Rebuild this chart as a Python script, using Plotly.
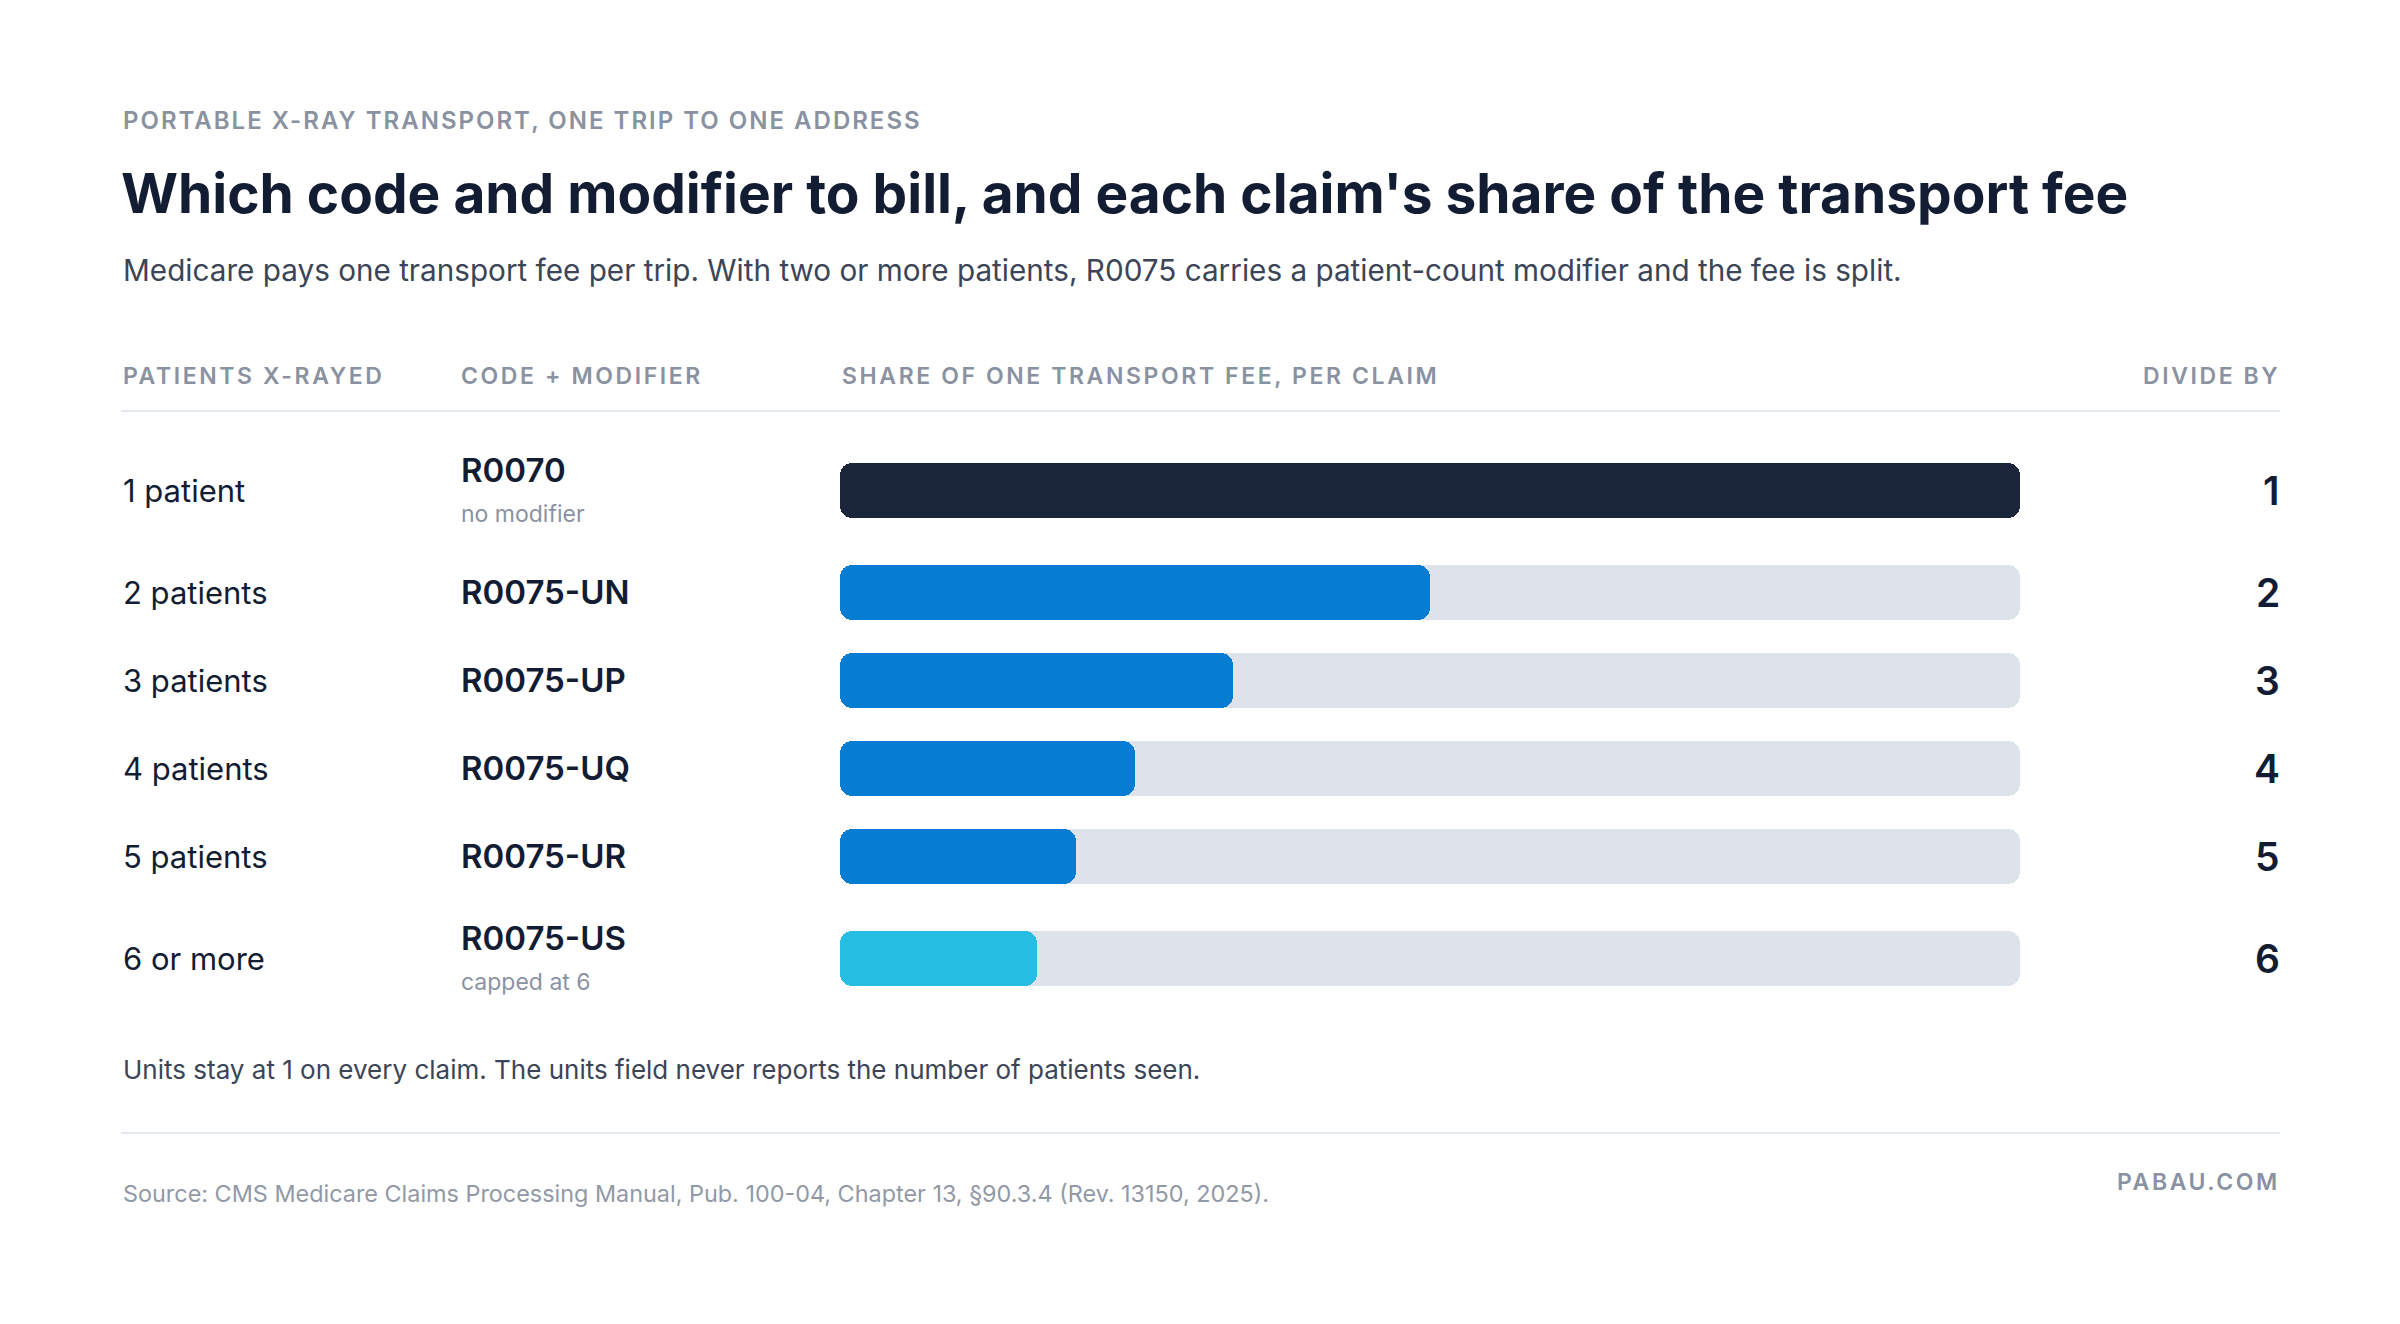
import plotly.graph_objects as go

# -------------------------------------
# Data
# -------------------------------------
patients = ["1 patient", "2 patients", "3 patients", "4 patients", "5 patients", "6 or more"]
codes = ["R0070", "R0075-UN", "R0075-UP", "R0075-UQ", "R0075-UR", "R0075-US"]
code_notes = ["no modifier", "", "", "", "", "capped at 6"]
divide_by = [1, 2, 3, 4, 5, 6]
share = [1, 1 / 2, 1 / 3, 1 / 4, 1 / 5, 1 / 6]

# -------------------------------------
# Layout constants (pixels of a 2400 x 1324 page)
# -------------------------------------
W, H = 2400, 1324
OFF = 8  # default body margin of the html page
LEFT, RIGHT = 121, 2280
COL_CODE, BAR_L, BAR_R = 459, 840, 2020
ROW_TOP = 432
row_h = [116 if n else 88 for n in code_notes]
BAR_H = 55

centers = []
y = ROW_TOP
for h in row_h:
    centers.append(y + h / 2)
    y += h

FONT = "Inter"
NAVY = "#121c32"
GRAY = "#8a92a2"
TEXT = "#3c4557"
bar_colors = ["#1b263b", "#067cd2", "#067cd2", "#067cd2", "#067cd2", "#25bde1"]


def px(x):
    return (x - OFF) / W


def py(y):
    return 1 - (y - OFF) / H


fig = go.Figure()

# grey tracks
fig.add_trace(go.Bar(
    x=[1] * len(share), y=centers, base=0, orientation="h", width=BAR_H,
    marker=dict(color="#dde2eb", cornerradius=12, line=dict(width=0)),
    hoverinfo="skip", showlegend=False
))
# share of the fee
fig.add_trace(go.Bar(
    x=share, y=centers, base=0, orientation="h", width=BAR_H,
    marker=dict(color=bar_colors, cornerradius=12, line=dict(width=0)),
    customdata=divide_by,
    hovertemplate="1/%{customdata} of the fee<extra></extra>", showlegend=False
))

ann = []


def text(x, y, s, size, color, weight=400, xanchor="left", spacing=0):
    if spacing:
        s = f'<span style="letter-spacing:{spacing}px">{s}</span>'
    ann.append(dict(
        x=px(x), y=py(y), xref="paper", yref="paper", text=s, showarrow=False,
        xanchor=xanchor, yanchor="middle",
        font=dict(family=FONT, size=size, color=color, weight=weight)
    ))


# header block
text(LEFT, 121, "PORTABLE X-RAY TRANSPORT, ONE TRIP TO ONE ADDRESS", 24, GRAY, 600, spacing=2)
text(LEFT - 2, 193, "Which code and modifier to bill, and each claim's share of the transport fee", 55, NAVY, 700)
text(LEFT, 270, "Medicare pays one transport fee per trip. With two or more patients, R0075 carries a "
     "patient-count modifier and the fee is split.", 29.7, TEXT, 400)

# column headers
text(LEFT, 376, "PATIENTS X-RAYED", 23, GRAY, 600, spacing=2.6)
text(COL_CODE, 376, "CODE + MODIFIER", 23, GRAY, 600, spacing=2.6)
text(BAR_L, 376, "SHARE OF ONE TRANSPORT FEE, PER CLAIM", 23, GRAY, 600, spacing=2.6)
text(RIGHT + 2, 376, "DIVIDE BY", 23, GRAY, 600, xanchor="right", spacing=2.6)

# rows
for i in range(len(patients)):
    c = centers[i]
    text(LEFT, c, patients[i], 31, NAVY, 400)
    if code_notes[i]:
        text(COL_CODE, c - 20, codes[i], 33, NAVY, 600)
        text(COL_CODE, c + 24, code_notes[i], 23, GRAY, 400)
    else:
        text(COL_CODE, c, codes[i], 33, NAVY, 600)
    text(RIGHT + 2, c, str(divide_by[i]), 39, NAVY, 600, xanchor="right")

# footer
text(LEFT, 1069, "Units stay at 1 on every claim. The units field never reports the number of patients seen.",
     26, TEXT, 400)
text(LEFT, 1193, "Source: CMS Medicare Claims Processing Manual, Pub. 100-04, Chapter 13, §90.3.4 (Rev. 13150, 2025).",
     23.4, "#9299a6", 400)
text(RIGHT + 2, 1182, "PABAU.COM", 23, GRAY, 600, xanchor="right", spacing=2.6)

shapes = [
    dict(type="line", xref="paper", yref="paper", x0=px(LEFT), x1=px(RIGHT),
         y0=py(411), y1=py(411), line=dict(color="#e3e7ee", width=2)),
    dict(type="line", xref="paper", yref="paper", x0=px(LEFT), x1=px(RIGHT),
         y0=py(1133), y1=py(1133), line=dict(color="#e3e7ee", width=2)),
]

fig.update_layout(
    width=W, height=H,
    margin=dict(l=0, r=0, t=0, b=0),
    paper_bgcolor="white", plot_bgcolor="white",
    barmode="overlay", bargap=0,
    xaxis=dict(domain=[px(BAR_L), px(BAR_R)], range=[0, 1], visible=False, fixedrange=True),
    yaxis=dict(domain=[0, 1], range=[H + OFF, OFF], visible=False, fixedrange=True),
    annotations=ann, shapes=shapes,
    font=dict(family=FONT),
)

fig.write_html("out.html")
